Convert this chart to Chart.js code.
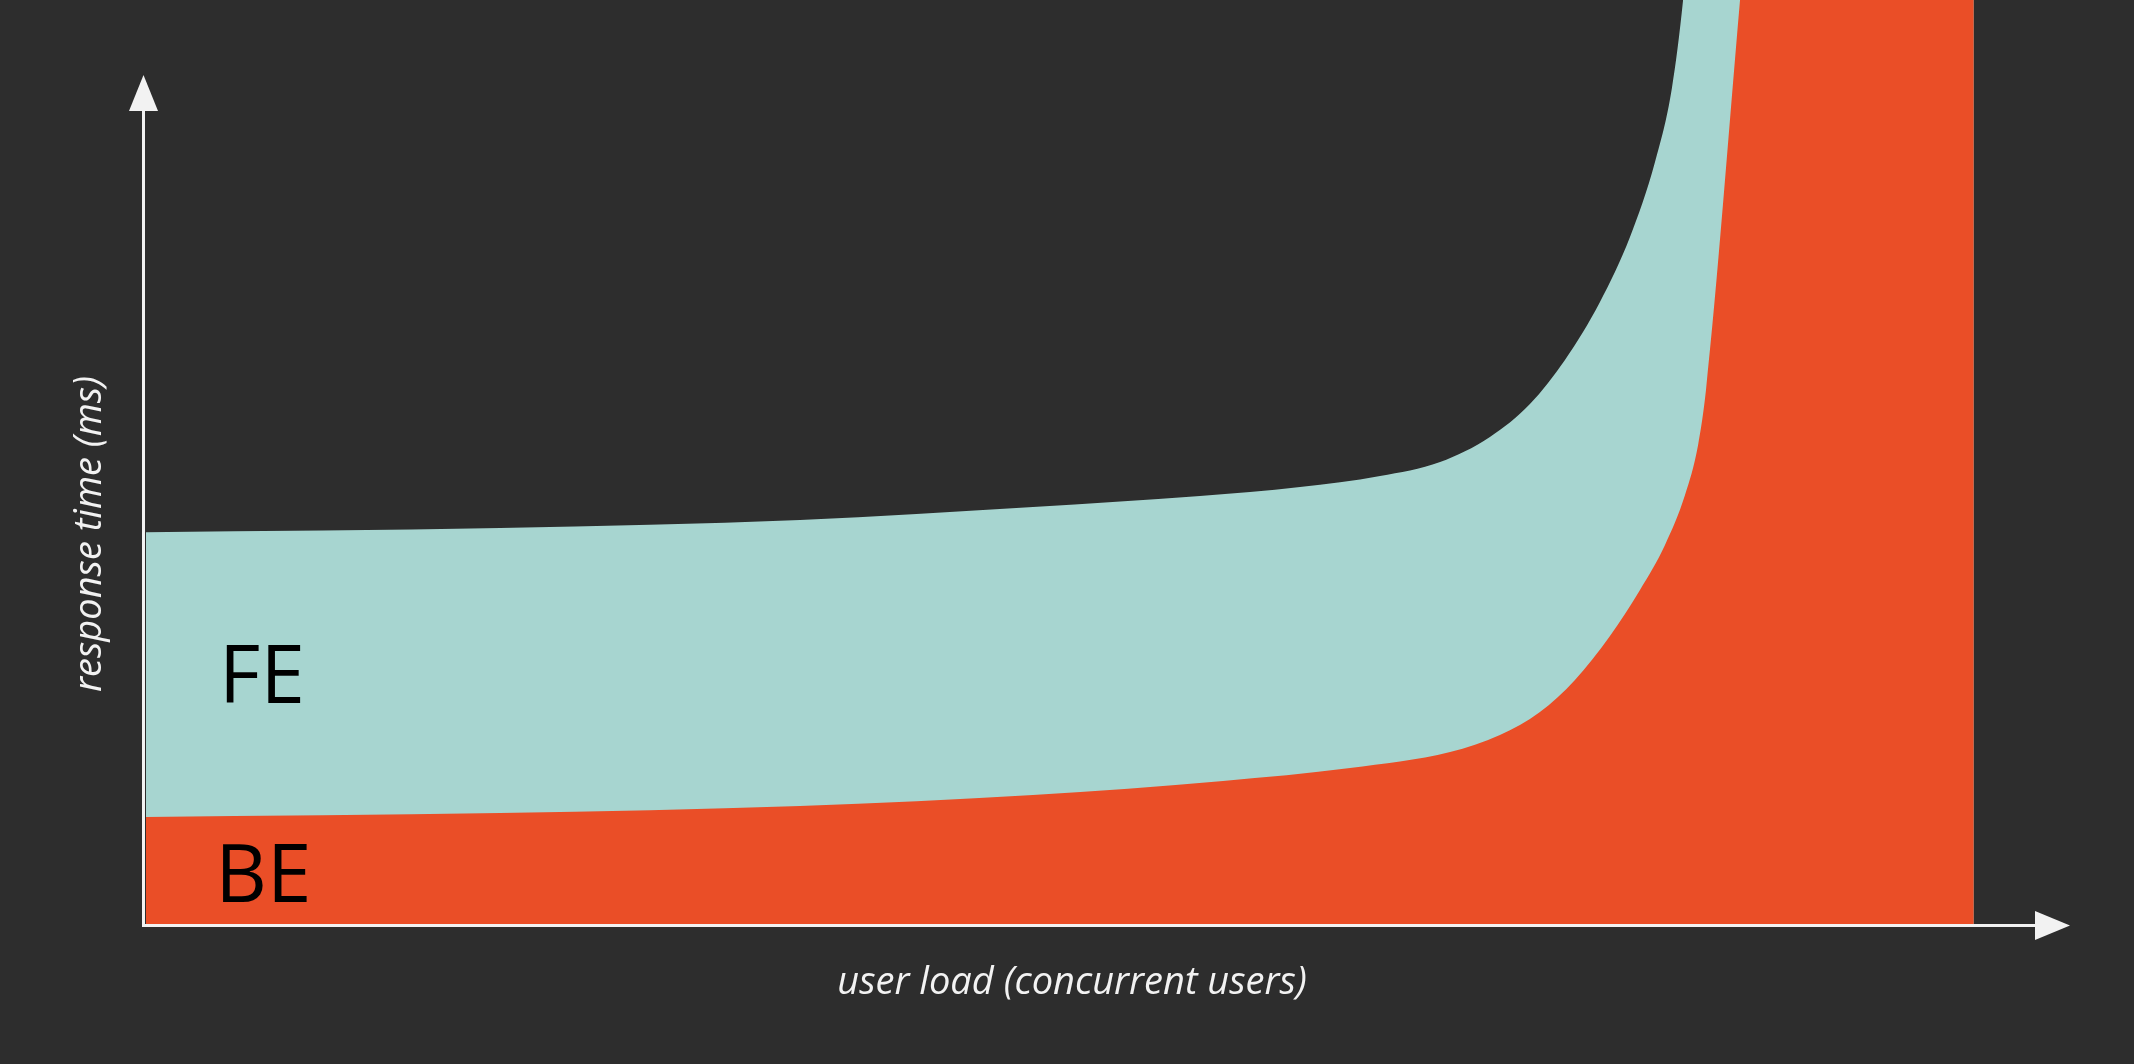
<!DOCTYPE html>
<html>
<head>
<meta charset="utf-8">
<script src="https://cdn.jsdelivr.net/npm/chart.js@4"></script>
<style>
  html, body { margin: 0; padding: 0; background: #2d2d2d; }
  canvas { display: block; }
</style>
</head>
<body>
<canvas id="loadChart" width="2134" height="1064"></canvas>
<script>
// user load (x) and response time (y)
const beLoad = [0, 18.40, 33.99, 46.10, 55.98, 62.58, 67.78, 70.37, 72.45, 74.27, 76.09, 77.65, 78.95, 79.99, 80.67, 81.08, 82.85, 83.26, 95];
const beTime = [11.58, 12.01, 12.77, 13.96, 15.48, 16.88, 18.61, 20.45, 22.94, 26.41, 31.17, 36.15, 41.02, 46.43, 51.84, 57.79, 100, 109.96, 130];

const feLoad = [0, 18.40, 33.99, 46.10, 54.78, 59.98, 64.14, 67.26, 69.85, 71.93, 73.75, 75.57, 77.13, 78.43, 79.31, 79.89, 80.25, 95];
const feTime = [42.4, 42.86, 43.72, 45.13, 46.32, 47.29, 48.48, 50.0, 52.71, 56.28, 61.04, 67.32, 74.35, 82.47, 90.48, 100, 108.66, 130];

const areaLabels = ["BE", "FE"];
const xTitle = "user load (concurrent users)";
const yTitle = "response time (ms)";

const toPoints = (xs, ys) => xs.map((x, i) => ({ x: x, y: ys[i] }));

document.addEventListener("DOMContentLoaded", () => {
  // ejes con flechas, titulos y etiquetas FE / BE
  const axesPlugin = {
    id: "axesPlugin",
    afterDraw(chart) {
      const ctx = chart.ctx;
      const area = chart.chartArea;
      const xs = chart.scales.x;
      const ys = chart.scales.y;
      const ax = area.left - 4;
      const ay = area.bottom;

      ctx.save();
      ctx.fillStyle = "#f2f2f2";
      ctx.fillRect(ax, 108, 3, ay + 3 - 108);
      ctx.fillRect(ax, ay, area.right - 35 - ax, 3);

      // flecha vertical
      ctx.beginPath();
      ctx.moveTo(ax + 1.5, 75);
      ctx.lineTo(ax + 16, 111);
      ctx.lineTo(ax - 13, 111);
      ctx.closePath();
      ctx.fill();

      // flecha horizontal
      ctx.beginPath();
      ctx.moveTo(area.right, ay + 1.5);
      ctx.lineTo(area.right - 35, ay - 13);
      ctx.lineTo(area.right - 35, ay + 16);
      ctx.closePath();
      ctx.fill();

      ctx.font = "italic 38px 'Open Sans'";
      ctx.textAlign = "center";
      ctx.textBaseline = "alphabetic";
      ctx.fillText(xTitle, 1072, 994);

      ctx.translate(90, 534);
      ctx.rotate(-Math.PI / 2);
      ctx.textBaseline = "middle";
      ctx.fillText(yTitle, 0, 0);
      ctx.restore();

      ctx.save();
      ctx.fillStyle = "#000000";
      ctx.font = "80px 'Open Sans'";
      ctx.textAlign = "left";
      ctx.textBaseline = "alphabetic";
      ctx.fillText(areaLabels[0], xs.getPixelForValue(3.6), ys.getPixelForValue(2.4));
      ctx.fillText(areaLabels[1], xs.getPixelForValue(3.8), ys.getPixelForValue(23.9));
      ctx.restore();
    },
  };

  const data = {
    datasets: [
      {
        label: areaLabels[0],
        data: toPoints(beLoad, beTime),
        backgroundColor: "#ea4e27",
        borderColor: "rgba(0,0,0,0)",
        borderWidth: 0,
        fill: "origin",
      },
      {
        label: areaLabels[1],
        data: toPoints(feLoad, feTime),
        backgroundColor: "#a7d5d0",
        borderColor: "rgba(0,0,0,0)",
        borderWidth: 0,
        fill: "origin",
      },
    ],
  };

  const config = {
    type: "line",
    data: data,
    options: {
      responsive: false,
      animation: false,
      layout: {
        padding: { left: 146, right: 64, top: 0, bottom: 140 },
      },
      elements: {
        point: { radius: 0, hoverRadius: 0 },
        line: { cubicInterpolationMode: "monotone" },
      },
      plugins: {
        legend: { display: false },
        tooltip: { enabled: false },
      },
      scales: {
        x: { type: "linear", min: 0, max: 100, display: false },
        y: { type: "linear", min: 0, max: 100, display: false },
      },
    },
    plugins: [axesPlugin],
  };

  const ctx = document.getElementById("loadChart").getContext("2d");
  new Chart(ctx, config);
});
</script>
</body>
</html>
